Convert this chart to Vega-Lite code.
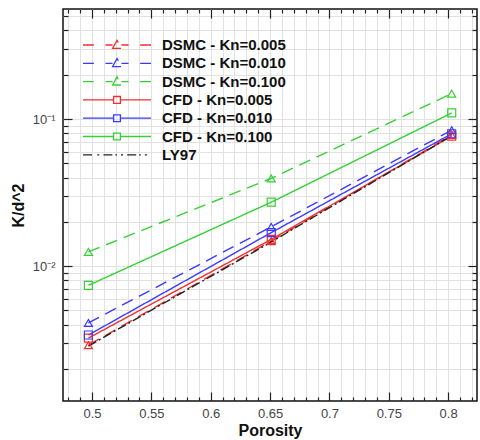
{
  "$schema": "https://vega.github.io/schema/vega-lite/v6.json",
  "autosize": "none",
  "width": 414,
  "height": 392,
  "padding": {"left": 63, "top": 9, "right": 3, "bottom": 39},
  "background": "white",
  "config": {
    "view": {"stroke": "#111", "strokeWidth": 1.5},
    "font": "Liberation Sans"
  },
  "data": {
    "values": [
      {"series": "DSMC - Kn=0.005", "porosity": 0.497, "k": 0.0029},
      {"series": "DSMC - Kn=0.005", "porosity": 0.651, "k": 0.0148},
      {"series": "DSMC - Kn=0.005", "porosity": 0.803, "k": 0.078},
      {"series": "DSMC - Kn=0.010", "porosity": 0.497, "k": 0.00411},
      {"series": "DSMC - Kn=0.010", "porosity": 0.651, "k": 0.0185},
      {"series": "DSMC - Kn=0.010", "porosity": 0.803, "k": 0.084},
      {"series": "DSMC - Kn=0.100", "porosity": 0.497, "k": 0.0125},
      {"series": "DSMC - Kn=0.100", "porosity": 0.651, "k": 0.0395},
      {"series": "DSMC - Kn=0.100", "porosity": 0.803, "k": 0.149},
      {"series": "CFD - Kn=0.005", "porosity": 0.497, "k": 0.00324},
      {"series": "CFD - Kn=0.005", "porosity": 0.651, "k": 0.0152},
      {"series": "CFD - Kn=0.005", "porosity": 0.803, "k": 0.0765},
      {"series": "CFD - Kn=0.010", "porosity": 0.497, "k": 0.0034},
      {"series": "CFD - Kn=0.010", "porosity": 0.651, "k": 0.0169},
      {"series": "CFD - Kn=0.010", "porosity": 0.803, "k": 0.0794},
      {"series": "CFD - Kn=0.100", "porosity": 0.497, "k": 0.0074},
      {"series": "CFD - Kn=0.100", "porosity": 0.651, "k": 0.0272},
      {"series": "CFD - Kn=0.100", "porosity": 0.803, "k": 0.110},
      {"series": "LY97", "porosity": 0.497, "k": 0.00286},
      {"series": "LY97", "porosity": 0.651, "k": 0.0146},
      {"series": "LY97", "porosity": 0.803, "k": 0.077}
    ]
  },
  "resolve": {"axis": {"x": "independent", "y": "independent"}},
  "layer": [
    {
      "mark": {"type": "line", "strokeWidth": 1.4, "clip": true},
      "encoding": {
        "x": {
          "field": "porosity", "type": "quantitative",
          "scale": {"domain": [0.4756, 0.8243], "nice": false, "zero": false},
          "axis": {
            "orient": "bottom",
            "title": "Porosity",
            "titleFont": "Liberation Sans", "titleFontSize": 16, "titleFontWeight": "bold", "titleColor": "#111", "titlePadding": 2,
            "values": [0.48,0.49,0.5,0.51,0.52,0.53,0.54,0.55,0.56,0.57,0.58,0.59,0.6,0.61,0.62,0.63,0.64,0.65,0.66,0.67,0.68,0.69,0.7,0.71,0.72,0.73,0.74,0.75,0.76,0.77,0.78,0.79,0.8,0.81,0.82],
            "labelExpr": "abs(datum.value*20 - round(datum.value*20)) < 0.001 ? toString(round(datum.value*100)/100) : ''",
            "labelFont": "Liberation Sans", "labelFontSize": 13, "labelColor": "#444", "labelPadding": 6,
            "labelOverlap": false, "labelFlush": false,
            "domain": false,
            "grid": true, "gridColor": "#e2e2e2", "gridWidth": 1,
            "ticks": true, "tickSize": 0, "tickColor": "#222", "tickWidth": 1.2,
            "encoding": {"ticks": {"y2": {"value": {"expr": "abs(datum.value*20 - round(datum.value*20)) < 0.001 ? -9 : -4"}}}}
          }
        },
        "y": {
          "field": "k", "type": "quantitative",
          "scale": {"type": "log", "domain": [0.00121, 0.56], "nice": false},
          "axis": {
            "orient": "left",
            "title": "K/d^2",
            "titleFont": "Liberation Sans", "titleFontSize": 16, "titleFontWeight": "bold", "titleColor": "#111", "titlePadding": 6,
            "values": [0.002,0.003,0.004,0.005,0.006,0.007,0.008,0.009,0.01,0.02,0.03,0.04,0.05,0.06,0.07,0.08,0.09,0.1,0.2,0.3,0.4,0.5],
            "labelExpr": "datum.value == 0.1 ? '10⁻¹' : datum.value == 0.01 ? '10⁻²' : ''",
            "labelFont": "Liberation Sans", "labelFontSize": 13, "labelColor": "#444", "labelPadding": 8,
            "labelOverlap": false, "labelFlush": false,
            "domain": false,
            "grid": true, "gridColor": "#e2e2e2", "gridWidth": 1,
            "ticks": true, "tickSize": 0, "tickColor": "#222", "tickWidth": 1.2,
            "encoding": {"ticks": {"x2": {"value": {"expr": "datum.value == 0.1 || datum.value == 0.01 ? 9 : 5"}}}}
          }
        },
        "color": {
          "field": "series", "type": "nominal",
          "scale": {
            "domain": ["DSMC - Kn=0.005","DSMC - Kn=0.010","DSMC - Kn=0.100","CFD - Kn=0.005","CFD - Kn=0.010","CFD - Kn=0.100","LY97"],
            "range": ["#f03030","#3a3aff","#35d035","#f03030","#3a3aff","#35d035","#222222"]
          },
          "legend": {
            "orient": "none", "legendX": 19, "legendY": 27,
            "title": null, "padding": 0,
            "symbolSize": 4624, "clipHeight": 18, "rowPadding": 0.3,
            "labelFont": "Liberation Sans", "labelFontSize": 15, "labelFontWeight": "bold", "labelColor": "#111", "labelOffset": 10,
            "symbolStrokeWidth": 1.3,
            "encoding": {
              "symbols": {
                "shape": {"value": {"expr": "indexof(datum.value,'DSMC')==0 ? 'M-1,0H-0.68M-0.34,0H-0.13M0.13,0H0.34M0.68,0H1M-0.13,0.1L0,-0.14L0.13,0.1Z' : indexof(datum.value,'CFD')==0 ? 'M-1,0H-0.1M0.1,0H1M-0.1,-0.1H0.1V0.1H-0.1Z' : 'M-1,0H-0.7M-0.58,0H-0.52M-0.4,0H0M0.12,0H0.18M0.3,0H0.7M0.82,0H0.88'"}},
                "fill": {"value": "transparent"},
                "strokeWidth": {"value": 1.3}
              }
            }
          }
        },
        "strokeDash": {
          "field": "series", "type": "nominal",
          "scale": {
            "domain": ["DSMC - Kn=0.005","DSMC - Kn=0.010","DSMC - Kn=0.100","CFD - Kn=0.005","CFD - Kn=0.010","CFD - Kn=0.100","LY97"],
            "range": [[12,7],[12,7],[12,7],[1,0],[1,0],[1,0],[9,3,2,3]]
          },
          "legend": null
        }
      }
    },
    {
      "transform": [{"filter": "datum.series != 'LY97'"}],
      "mark": {"type": "point", "filled": false, "strokeWidth": 1.2, "opacity": 1},
      "encoding": {
        "x": {
          "field": "porosity", "type": "quantitative",
          "axis": {
            "orient": "top", "title": null, "labels": false, "domain": false, "grid": false,
            "values": [0.48,0.49,0.5,0.51,0.52,0.53,0.54,0.55,0.56,0.57,0.58,0.59,0.6,0.61,0.62,0.63,0.64,0.65,0.66,0.67,0.68,0.69,0.7,0.71,0.72,0.73,0.74,0.75,0.76,0.77,0.78,0.79,0.8,0.81,0.82],
            "ticks": true, "tickSize": 0, "tickColor": "#222", "tickWidth": 1.2,
            "encoding": {"ticks": {"y2": {"value": {"expr": "abs(datum.value*20 - round(datum.value*20)) < 0.001 ? 9 : 4"}}}}
          }
        },
        "y": {
          "field": "k", "type": "quantitative",
          "axis": {
            "orient": "right", "title": null, "labels": false, "domain": false, "grid": false,
            "values": [0.002,0.003,0.004,0.005,0.006,0.007,0.008,0.009,0.01,0.02,0.03,0.04,0.05,0.06,0.07,0.08,0.09,0.1,0.2,0.3,0.4,0.5],
            "ticks": true, "tickSize": 0, "tickColor": "#222", "tickWidth": 1.2,
            "encoding": {"ticks": {"x2": {"value": {"expr": "datum.value == 0.1 || datum.value == 0.01 ? -9 : -5"}}}}
          }
        },
        "color": {"field": "series", "type": "nominal", "legend": null},
        "shape": {
          "field": "series", "type": "nominal",
          "scale": {
            "domain": ["DSMC - Kn=0.005","DSMC - Kn=0.010","DSMC - Kn=0.100","CFD - Kn=0.005","CFD - Kn=0.010","CFD - Kn=0.100"],
            "range": ["triangle-up","triangle-up","triangle-up","square","square","square"]
          },
          "legend": null
        },
        "size": {"value": 64}
      }
    }
  ]
}
